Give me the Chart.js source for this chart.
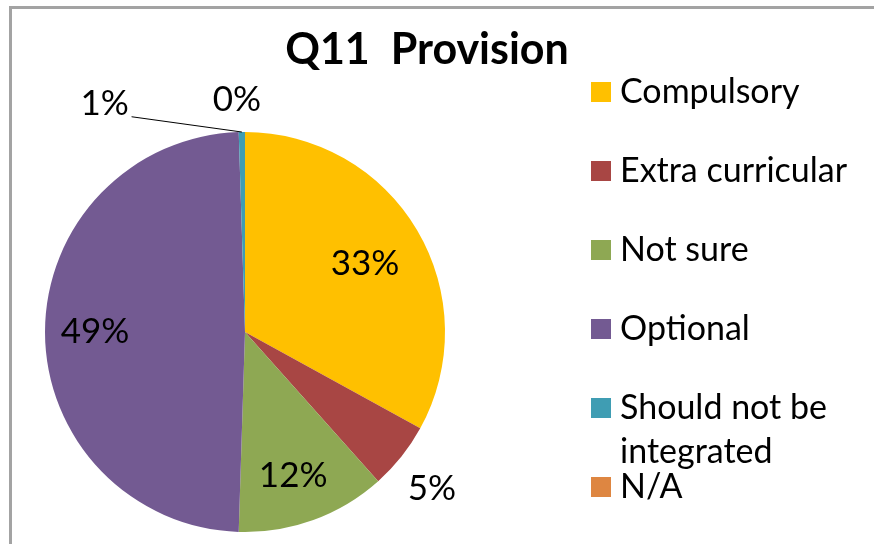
<!DOCTYPE html>
<html>
<head>
<meta charset="utf-8">
<script src="https://cdn.jsdelivr.net/npm/chart.js@4.4.1/dist/chart.umd.min.js"></script>
<style>
    html, body { margin: 0; padding: 0; background: #fff; overflow: hidden; }
    #wrap { position: relative; width: 874px; height: 544px; }
    #frame {
        position: absolute; left: 9px; top: 6px;
        width: 900px; height: 600px;
        border: 3px solid #a3a3a3;
    }
    #chart-q11 { position: absolute; left: 0; top: 0; }
</style>
</head>
<body>
<div id="wrap">
    <div id="frame"></div>
    <canvas id="chart-q11" width="874" height="544"></canvas>
</div>
<script>
// ======================================================
// Q11 PROVISION - PIE
// ======================================================

const chartTitle = "Q11  Provision";

const categorias = [
    "Compulsory",
    "Extra curricular",
    "Not sure",
    "Optional",
    ["Should not be", "integrated"],
    "N/A"
];

// share of answers (%)
const valores = [33.0, 5.4, 12.1, 49.0, 0.5, 0.0];

const cores = ["#ffc000", "#a84644", "#8ea853", "#735a92", "#3f9db3", "#de8641"];

const FONT = "Lato, 'Open Sans', sans-serif";

// where each percentage sits: distance as fraction of radius, angle nudge in degrees
const labelPlacement = [
    { dist: 0.69, shift: 1 },
    { dist: 1.22, shift: 1.5 },
    { dist: 0.76, shift: 1.5 },
    { dist: 0.75, shift: 0 },
    { dist: 1.34, shift: -30.7, leader: true },
    { dist: 1.16, shift: -2 }
];

const pieText = {
    id: "pieText",
    afterDatasetsDraw(chart) {
        const { ctx } = chart;
        const meta = chart.getDatasetMeta(0);
        const data = chart.data.datasets[0].data;
        const total = data.reduce((a, b) => a + b, 0);

        ctx.save();
        ctx.font = "35px " + FONT;
        ctx.fillStyle = "#000";
        ctx.textAlign = "center";
        ctx.textBaseline = "middle";

        meta.data.forEach((arc, i) => {
            const p = arc.getProps(["x", "y", "startAngle", "endAngle", "outerRadius"], true);
            const place = labelPlacement[i];
            const mid = (p.startAngle + p.endAngle) / 2;
            const a = mid + place.shift * Math.PI / 180;
            const r = p.outerRadius * place.dist;
            const lx = p.x + Math.cos(a) * r;
            const ly = p.y + Math.sin(a) * r;
            const text = Math.round(data[i] / total * 100) + "%";

            if (place.leader) {
                ctx.beginPath();
                ctx.strokeStyle = "#000";
                ctx.lineWidth = 1;
                ctx.moveTo(lx + 27, ly + 13);
                ctx.lineTo(p.x + Math.cos(mid) * p.outerRadius, p.y + Math.sin(mid) * p.outerRadius);
                ctx.stroke();
            }
            ctx.fillText(text, lx, ly);
        });
        ctx.restore();
    },
    afterDraw(chart) {
        const { ctx } = chart;
        const colors = chart.data.datasets[0].backgroundColor;
        ctx.save();

        // title
        ctx.font = "bold 43px " + FONT;
        ctx.fillStyle = "#000";
        ctx.textAlign = "center";
        ctx.textBaseline = "middle";
        ctx.fillText(chartTitle, 427, 50);

        // legend
        ctx.font = "34px " + FONT;
        ctx.textAlign = "left";
        chart.data.labels.forEach((label, i) => {
            const y = 92 + i * 79;
            ctx.fillStyle = colors[i];
            ctx.fillRect(591, y - 10, 20, 20);
            ctx.fillStyle = "#000";
            const lines = Array.isArray(label) ? label : [label];
            lines.forEach((line, j) => ctx.fillText(line, 620, y + j * 44));
        });
        ctx.restore();
    }
};

new Chart(document.getElementById("chart-q11"), {
    type: "pie",
    data: {
        labels: categorias,
        datasets: [{
            data: valores,
            backgroundColor: cores,
            borderWidth: 0
        }]
    },
    options: {
        responsive: false,
        animation: false,
        layout: {
            padding: { left: 45, right: 429, top: 132, bottom: 12 }
        },
        plugins: {
            legend: { display: false },
            title: { display: false },
            tooltip: { enabled: false }
        }
    },
    plugins: [pieText]
});
</script>
</body>
</html>
